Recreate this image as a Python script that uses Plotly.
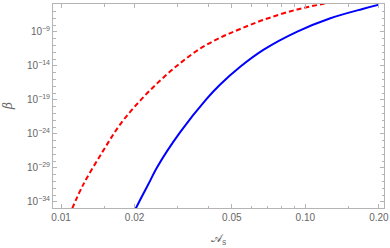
import plotly.graph_objects as go

# Red dashed curve
red_x = [0.0111, 0.01231, 0.01486, 0.01746, 0.02108, 0.02546, 0.03074, 0.03712,
         0.04482, 0.05412, 0.06731, 0.09268, 0.1186, 0.1327]
red_y = [1e-35, 3.16e-32, 3.16e-27, 2.51e-23, 7.94e-20, 7.08e-17, 2.51e-14, 3.55e-12,
         1.41e-10, 2.69e-9, 5.75e-8, 2.0e-6, 1.32e-5, 2.82e-5]

# Blue solid curve
blue_x = [0.0202, 0.02108, 0.02317, 0.02473, 0.03074, 0.03928, 0.04482, 0.05412,
          0.06731, 0.09268, 0.1266, 0.1729, 0.199]
blue_y = [1e-35, 2.0e-34, 1.35e-31, 1.26e-29, 1.78e-24, 1.17e-19, 1.78e-17, 7.24e-15,
          2.19e-12, 1.07e-9, 1.0e-7, 2.51e-6, 9.33e-6]

x_ticks = [0.01, 0.02, 0.05, 0.10, 0.20]
x_ticktext = ["0.01", "0.02", "0.05", "0.10", "0.20"]
x_minor = [0.015, 0.03, 0.04, 0.06, 0.07, 0.08, 0.09, 0.15]

y_exps = [-9, -14, -19, -24, -29, -34]
y_ticks = [10.0 ** e for e in y_exps]
y_ticktext = ["10<sup>\u2212%d</sup>" % (-e) for e in y_exps]
y_minor = [10.0 ** e for e in range(-35, -4) if e not in y_exps]

fig = go.Figure()
fig.add_trace(go.Scatter(x=red_x, y=red_y, mode="lines",
                         line=dict(color="#ff0000", width=2, dash="5px,3px"),
                         line_shape="spline", showlegend=False, hoverinfo="skip"))
fig.add_trace(go.Scatter(x=blue_x, y=blue_y, mode="lines",
                         line=dict(color="#0000ff", width=2),
                         line_shape="spline", showlegend=False, hoverinfo="skip"))

frame = "#b4b4b4"
tickfont = dict(family="Liberation Sans, Arial, sans-serif", size=10, color="#666666")
fig.update_layout(
    width=390, height=248,
    margin=dict(l=53, r=6, t=4, b=40, autoexpand=False),
    paper_bgcolor="white", plot_bgcolor="white",
    xaxis=dict(type="log", range=[-2.033, -0.678], automargin=False,
               tickvals=x_ticks, ticktext=x_ticktext,
               ticks="inside", ticklen=4, tickcolor=frame, tickwidth=1,
               minor=dict(tickvals=x_minor, ticks="inside", ticklen=2.5, tickcolor=frame),
               showline=True, linecolor=frame, linewidth=1, mirror="allticks",
               showgrid=False, zeroline=False, tickfont=tickfont),
    yaxis=dict(type="log", range=[-34.9, -4.9], automargin=False,
               tickvals=y_ticks, ticktext=y_ticktext,
               ticks="inside", ticklen=4, tickcolor=frame, tickwidth=1,
               minor=dict(tickvals=y_minor, ticks="inside", ticklen=2.5, tickcolor=frame),
               showline=True, linecolor=frame, linewidth=1, mirror="allticks",
               showgrid=False, zeroline=False, tickfont=tickfont),
    annotations=[
        dict(text="\U0001D49C<sub>s</sub>", xref="paper", yref="paper",
             x=0.5, y=-0.152, xanchor="center", yanchor="middle", showarrow=False,
             font=dict(family="DejaVu Serif, serif", size=12, color="#666666")),
        dict(text="<i>\u03b2</i>", xref="paper", yref="paper",
             x=-0.136, y=0.5, xanchor="center", yanchor="middle", showarrow=False,
             textangle=-90,
             font=dict(family="DejaVu Serif, serif", size=12, color="#666666")),
    ],
)
fig.write_html("out.html", config={"displayModeBar": False},
               post_script="document.body.style.margin='0';document.body.style.overflow='hidden';")
